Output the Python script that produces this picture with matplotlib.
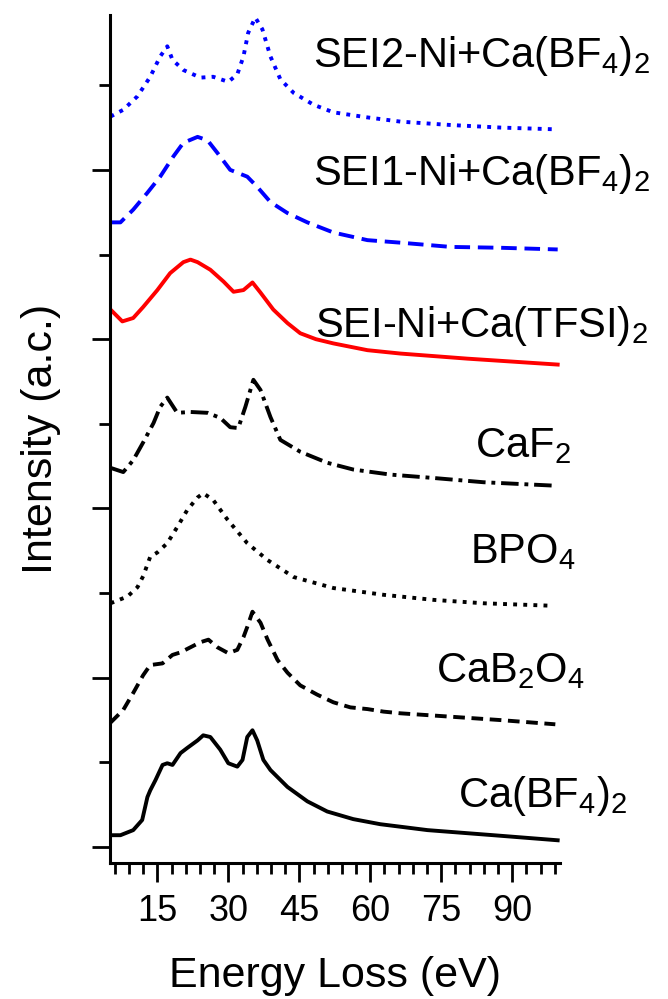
import numpy as np
import matplotlib
matplotlib.use("Agg")
from matplotlib import pyplot as plt

plt.rcParams['font.family'] = ['Liberation Sans', 'DejaVu Sans']
plt.rcParams['mathtext.default'] = 'regular'

# Espectros EELS (ya desplazados verticalmente)
x_cabf4 = [5.1, 7.2, 9.9, 11.8, 12.9, 13.5, 14.6, 16.1, 17.1, 18.2, 19.9, 21.3, 23.5, 24.7, 26.2,
           28.3, 30.0, 31.9, 33.0, 34.0, 35.1, 36.1, 37.4, 38.9, 42.5, 46.7, 50.9, 56.4, 62.1,
           66.4, 72.1, 86.0, 99.6]
y_cabf4 = [0.14, 0.14, 0.20, 0.32, 0.59, 0.67, 0.79, 0.97, 0.99, 0.97, 1.11, 1.17, 1.26, 1.32, 1.30,
           1.15, 0.99, 0.95, 1.03, 1.30, 1.38, 1.26, 1.03, 0.91, 0.71, 0.54, 0.42, 0.33, 0.27,
           0.24, 0.20, 0.14, 0.08]

x_cab2o4 = [5.1, 7.8, 9.9, 12.0, 13.5, 16.1, 18.2, 19.9, 22.0, 24.1, 25.8, 27.7, 30.0, 31.9, 33.2,
            34.0, 35.1, 36.8, 38.3, 40.4, 42.5, 45.2, 48.8, 52.2, 55.8, 59.4, 62.8, 66.4, 77.0,
            87.5, 99.1]
y_cab2o4 = [1.47, 1.62, 1.82, 2.03, 2.15, 2.17, 2.27, 2.30, 2.36, 2.42, 2.45, 2.36, 2.29, 2.33, 2.48,
            2.60, 2.78, 2.65, 2.45, 2.21, 2.06, 1.91, 1.80, 1.71, 1.65, 1.63, 1.60, 1.58, 1.54,
            1.50, 1.45]

x_bpo4 = [5.1, 8.7, 10.8, 12.0, 13.5, 15.0, 17.1, 19.2, 21.3, 23.5, 24.7, 26.8, 29.8, 34.0, 38.3,
          43.8, 52.2, 62.8, 73.4, 83.9, 98.7]
y_bpo4 = [2.88, 2.96, 3.07, 3.20, 3.43, 3.48, 3.59, 3.78, 3.98, 4.13, 4.18, 4.10, 3.87, 3.59, 3.39,
          3.19, 3.06, 2.98, 2.92, 2.88, 2.85]

x_caf2 = [5.1, 7.8, 9.9, 12.0, 14.2, 15.6, 17.1, 19.2, 22.0, 25.6, 28.3, 30.4, 32.1, 33.6, 35.3,
          36.8, 38.9, 41.0, 45.2, 50.9, 56.4, 64.3, 73.4, 83.9, 98.7]
y_caf2 = [4.48, 4.43, 4.57, 4.78, 5.01, 5.20, 5.31, 5.13, 5.14, 5.13, 5.07, 4.96, 4.95, 5.20, 5.52,
          5.40, 5.08, 4.81, 4.67, 4.54, 4.46, 4.40, 4.36, 4.31, 4.27]

x_sei = [5.1, 7.6, 9.9, 12.0, 15.0, 17.7, 20.5, 22.0, 23.5, 26.2, 29.0, 31.1, 33.2, 35.1, 36.8,
         39.5, 42.5, 45.2, 48.5, 52.2, 59.4, 66.4, 80.5, 99.6]
y_sei = [6.35, 6.21, 6.25, 6.38, 6.58, 6.78, 6.91, 6.94, 6.91, 6.82, 6.68, 6.56, 6.58, 6.67, 6.55,
         6.35, 6.19, 6.07, 6.00, 5.95, 5.87, 5.83, 5.77, 5.70]

x_sei1 = [5.1, 7.2, 9.9, 12.9, 15.6, 18.4, 20.5, 23.5, 25.6, 27.7, 30.4, 34.0, 36.1, 38.9, 42.5,
          46.7, 52.2, 59.4, 66.4, 77.0, 87.5, 99.6]
y_sei1 = [7.38, 7.38, 7.53, 7.73, 7.92, 8.16, 8.32, 8.39, 8.35, 8.20, 8.00, 7.92, 7.80, 7.62, 7.49,
          7.38, 7.26, 7.17, 7.14, 7.09, 7.08, 7.06]

x_sei2 = [5.1, 7.8, 10.8, 13.5, 15.6, 17.1, 18.2, 20.5, 24.1, 26.8, 30.0, 31.9, 33.2, 34.2, 35.7,
          37.2, 38.9, 41.0, 43.8, 48.0, 52.2, 59.4, 66.4, 77.0, 87.5, 98.7]
y_sei2 = [8.63, 8.71, 8.87, 9.10, 9.34, 9.46, 9.30, 9.18, 9.09, 9.10, 9.04, 9.13, 9.34, 9.62, 9.80,
          9.66, 9.34, 9.07, 8.91, 8.77, 8.68, 8.62, 8.57, 8.53, 8.50, 8.48]

etiquetas = ['SEI2-Ni+Ca(BF$_4$)$_2$', 'SEI1-Ni+Ca(BF$_4$)$_2$', 'SEI-Ni+Ca(TFSI)$_2$',
             'CaF$_2$', 'BPO$_4$', 'CaB$_2$O$_4$', 'Ca(BF$_4$)$_2$']
etiq_x = [47.8, 47.8, 48.4, 82.2, 81.0, 73.8, 78.6]
etiq_y = [9.22, 7.82, 6.03, 4.61, 3.36, 1.95, 0.47]

fig = plt.figure(figsize=(6.68, 9.99), dpi=100)
ax = fig.add_axes([0.1647, 0.136, 0.673, 0.849])

lw = 2.8
ax.plot(x_cabf4, y_cabf4, color='black', lw=lw, ls='-')
ax.plot(x_cab2o4, y_cab2o4, color='black', lw=lw, dashes=(3, 1.7))
ax.plot(x_bpo4, y_bpo4, color='black', lw=lw, dashes=(1, 1.6))
ax.plot(x_caf2, y_caf2, color='black', lw=lw, dashes=(4.5, 1.5, 1, 1.5))
ax.plot(x_sei, y_sei, color='red', lw=lw, ls='-')
ax.plot(x_sei1, y_sei1, color='blue', lw=lw, dashes=(4, 2))
ax.plot(x_sei2, y_sei2, color='blue', lw=lw, dashes=(1, 1.6), clip_on=False)

for t, tx, ty in zip(etiquetas, etiq_x, etiq_y):
    ax.text(tx, ty, t, fontsize=30, ha='left', va='baseline')

ax.set_xlim(5, 100)
ax.set_ylim(-0.19, 9.83)
ax.set_xticks([15, 30, 45, 60, 75, 90])
ax.set_xticks(np.arange(6, 100, 3), minor=True)
ax.set_yticks([0, 2, 4, 6, 8])
ax.set_yticks([1, 3, 5, 7, 9], minor=True)
ax.set_yticklabels([])
ax.tick_params(axis='x', which='major', direction='out', length=14, width=2, labelsize=26, pad=8)
ax.tick_params(axis='x', which='minor', direction='out', length=8, width=2)
ax.tick_params(axis='y', which='major', direction='out', length=13, width=2)
ax.tick_params(axis='y', which='minor', direction='out', length=8, width=2)

for s in ['top', 'right']:
    ax.spines[s].set_visible(False)
for s in ['left', 'bottom']:
    ax.spines[s].set_linewidth(2.2)

ax.set_xlabel('Energy Loss (eV)', fontsize=31, labelpad=20)
ax.set_ylabel('Intensity (a.c.)', fontsize=31, labelpad=19)

plt.savefig('out.png', dpi=100)
